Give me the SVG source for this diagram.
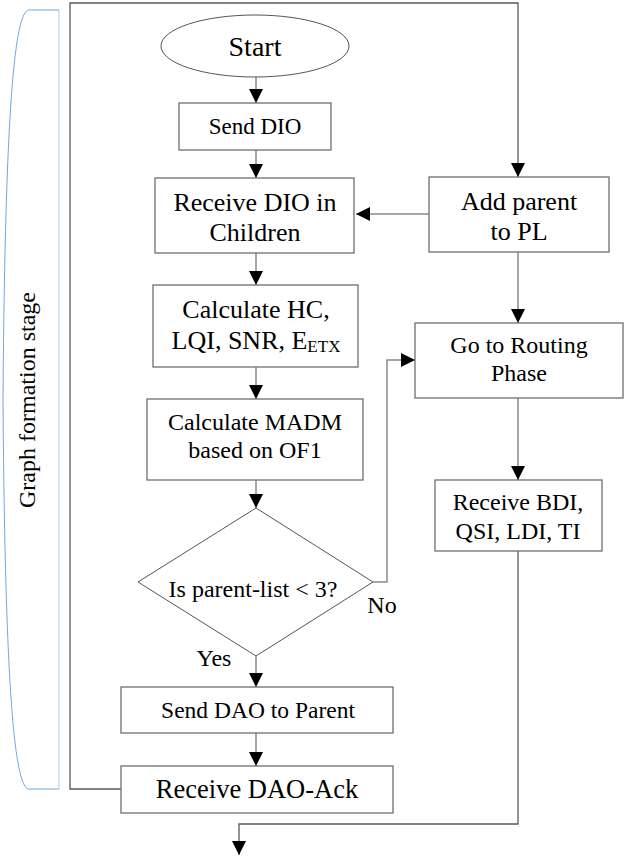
<svg xmlns="http://www.w3.org/2000/svg" width="631" height="857" viewBox="0 0 631 857">
<style>
  .box{fill:#fff;stroke:#6f6f6f;stroke-width:1.3}
  .t{font-family:'Liberation Serif',Tinos,'Times New Roman',Times,'DejaVu Serif',serif;fill:#000;text-anchor:middle}
  .c{fill:none;stroke:#8a8a8a;stroke-width:1.5}
  .loop{fill:none;stroke:#5a5a5a;stroke-width:1.3}
</style>
<defs>
  <marker id="ah" markerWidth="15" markerHeight="14" refX="14" refY="7" orient="auto" markerUnits="userSpaceOnUse">
    <path d="M0,0 L14,7 L0,14 Z" fill="#000"/>
  </marker>
</defs>
<rect width="631" height="857" fill="#fff"/>

<g id="stage-bracket">
  <path d="M59,10 L59,789" fill="none" stroke="#bcd6ee" stroke-width="1.3"/>
  <path d="M59,10 L29,10 C14,10 5,120 3,400 C5,680 14,789 29,789 L59,789" fill="none" stroke="#6fa8dc" stroke-width="1"/>
  <text class="t" font-family="Liberation Serif" font-size="24" transform="translate(35,400) rotate(-90)">Graph formation stage</text>
</g>

<g id="connectors">
  <path class="c" d="M256,77 L256,103" marker-end="url(#ah)"/>
  <path class="c" d="M256,150 L256,178" marker-end="url(#ah)"/>
  <path class="c" d="M429,214 L356,214" marker-end="url(#ah)"/>
  <path class="c" d="M256,253 L256,285" marker-end="url(#ah)"/>
  <path class="c" d="M256,367 L256,399" marker-end="url(#ah)"/>
  <path class="c" d="M256,480 L256,508" marker-end="url(#ah)"/>
  <path class="c" d="M373,582 L387,582 L387,360 L415,360" marker-end="url(#ah)"/>
  <path class="c" d="M256,656 L256,687" marker-end="url(#ah)"/>
  <path class="c" d="M256,733 L256,766" marker-end="url(#ah)"/>
  <path class="loop" d="M121,789 L70,789 L70,3 L518,3 L518,177" marker-end="url(#ah)"/>
  <path class="c" d="M518,252 L518,323" marker-end="url(#ah)"/>
  <path class="c" d="M518,398 L518,480" marker-end="url(#ah)"/>
  <path class="loop" d="M518,551 L518,824 L239,824 L239,855" marker-end="url(#ah)"/>
</g>

<g id="start">
  <ellipse cx="255" cy="46" rx="94" ry="31" fill="#fff" stroke="#555" stroke-width="1"/>
  <text class="t" x="255" y="56" font-size="28">Start</text>
</g>

<g id="send-dio">
  <rect class="box" x="179" y="103" width="152" height="47"/>
  <text class="t" x="255" y="134" font-size="23">Send DIO</text>
</g>

<g id="receive-dio">
  <rect class="box" x="155" y="178" width="199" height="75"/>
  <text class="t" x="255" y="211" font-size="26">Receive DIO in</text>
  <text class="t" x="255" y="241" font-size="26">Children</text>
</g>

<g id="calc-hc">
  <rect class="box" x="153" y="285" width="205" height="82"/>
  <text class="t" x="256" y="318" font-size="26">Calculate HC,</text>
  <text class="t" x="256" y="349" font-size="26">LQI, SNR, E<tspan font-size="17" dy="3">ETX</tspan></text>
</g>

<g id="calc-madm">
  <rect class="box" x="147" y="399" width="216" height="81"/>
  <text class="t" x="255" y="430" font-size="24">Calculate MADM</text>
  <text class="t" x="255" y="458" font-size="24">based on OF1</text>
</g>

<g id="decision">
  <path d="M256,508 L373,582 L256,656 L138,582 Z" fill="#fff" stroke="#555" stroke-width="1"/>
  <text class="t" x="253" y="597" font-size="24">Is parent-list &lt; 3?</text>
  <text class="t" x="382" y="613" font-size="24">No</text>
  <text class="t" x="214" y="666" font-size="24">Yes</text>
</g>

<g id="send-dao">
  <rect class="box" x="121" y="687" width="272" height="46"/>
  <text class="t" x="258" y="718" font-size="23.5">Send DAO to Parent</text>
</g>

<g id="receive-dao-ack">
  <rect class="box" x="121" y="766" width="272" height="47"/>
  <text class="t" x="257" y="798" font-size="26.5">Receive DAO-Ack</text>
</g>

<g id="add-parent">
  <rect class="box" x="429" y="177" width="180" height="75"/>
  <text class="t" x="519" y="210" font-size="26">Add parent</text>
  <text class="t" x="519" y="240" font-size="26">to PL</text>
</g>

<g id="routing">
  <rect class="box" x="415" y="323" width="208" height="75"/>
  <text class="t" x="519" y="353" font-size="24">Go to Routing</text>
  <text class="t" x="519" y="381" font-size="24">Phase</text>
</g>

<g id="receive-bdi">
  <rect class="box" x="435" y="480" width="167" height="71"/>
  <text class="t" x="518" y="510" font-size="24">Receive BDI,</text>
  <text class="t" x="518" y="539" font-size="24">QSI, LDI, TI</text>
</g>
</svg>
